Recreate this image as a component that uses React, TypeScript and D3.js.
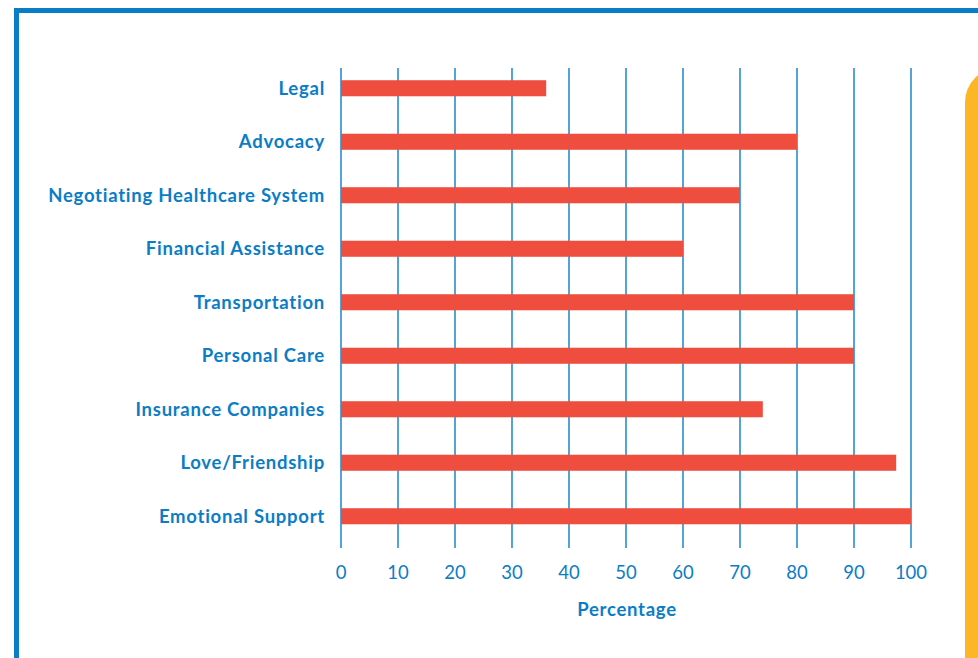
import React, { useRef, useEffect } from "react"
import * as d3 from "d3"

const categories = [
	"Legal",
	"Advocacy",
	"Negotiating Healthcare System",
	"Financial Assistance",
	"Transportation",
	"Personal Care",
	"Insurance Companies",
	"Love/Friendship",
	"Emotional Support",
]
const percentages = [36, 80, 70, 60, 90, 90, 74, 97.4, 100]
const xTicks = [0, 10, 20, 30, 40, 50, 60, 70, 80, 90, 100]

const BLUE = "#0a7dc6"
const RED = "#ef4e3e"
const YELLOW = "#fdb626"
const FONT = "Lato"

const App = () => {
	const svgRef = useRef<SVGSVGElement>(null)

	useEffect(() => {
		const svg = d3.select(svgRef.current)
		svg.selectAll("*").remove()

		// frame
		svg.append("rect")
			.attr("x", 16.5).attr("y", 10.5)
			.attr("width", 1000).attr("height", 700)
			.attr("fill", "none")
			.attr("stroke", BLUE)
			.attr("stroke-width", 5)

		// yellow side panel
		svg.append("rect")
			.attr("x", 965).attr("y", 68)
			.attr("width", 80).attr("height", 700)
			.attr("rx", 34)
			.attr("fill", YELLOW)

		const x = d3.scaleLinear().domain([0, 100]).range([341, 911])
		const y = d3.scaleBand().domain(categories).range([61.5, 543]).paddingInner(0.7).paddingOuter(0.35)

		// grid lines
		svg.append("g")
			.selectAll("line")
			.data(xTicks)
			.join("line")
			.attr("x1", (d) => x(d)).attr("x2", (d) => x(d))
			.attr("y1", 68).attr("y2", 548)
			.attr("stroke", BLUE)
			.attr("stroke-width", 1.4)

		// bars
		svg.append("g")
			.selectAll("rect")
			.data(categories)
			.join("rect")
			.attr("x", x(0))
			.attr("y", (d) => y(d)!)
			.attr("width", (d, i) => x(percentages[i]) - x(0))
			.attr("height", y.bandwidth())
			.attr("fill", RED)

		// category labels
		svg.append("g")
			.selectAll("text")
			.data(categories)
			.join("text")
			.attr("x", 325)
			.attr("y", (d) => y(d)! + y.bandwidth() / 2)
			.attr("dy", "0.35em")
			.attr("text-anchor", "end")
			.attr("font-family", FONT)
			.attr("font-weight", "bold")
			.attr("font-size", 18.5)
			.attr("letter-spacing", 0.75)
			.attr("fill", BLUE)
			.text((d) => d)

		// tick labels
		svg.append("g")
			.selectAll("text")
			.data(xTicks)
			.join("text")
			.attr("x", (d) => x(d))
			.attr("y", 579)
			.attr("text-anchor", "middle")
			.attr("font-family", FONT)
			.attr("font-size", 18.5)
			.attr("fill", BLUE)
			.text((d) => d)

		svg.append("text")
			.attr("x", 627)
			.attr("y", 616)
			.attr("text-anchor", "middle")
			.attr("font-family", FONT)
			.attr("font-weight", "bold")
			.attr("font-size", 18.5)
			.attr("letter-spacing", 0.75)
			.attr("fill", BLUE)
			.text("Percentage")
	}, [])

	return (
		<svg
			ref={svgRef}
			width={978}
			height={658}
			style={{ position: "fixed", left: 0, top: 0, background: "#fff" }}
		></svg>
	)
}

export default App
